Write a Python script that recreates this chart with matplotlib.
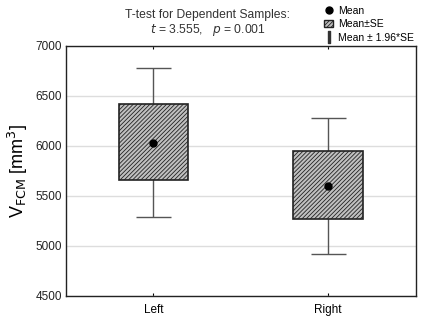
import numpy as np
import matplotlib.pyplot as plt
from matplotlib.patches import Patch
from matplotlib.lines import Line2D

plt.rcParams['font.family'] = ['Liberation Sans', 'DejaVu Sans']

groups = ['Left', 'Right']
means = [6030, 5600]
se_low = [5657, 5264]
se_high = [6417, 5947]
ci_low = [5284, 4917]
ci_high = [6774, 6280]

fig = plt.figure(figsize=(4.21, 3.18), dpi=100)
ax = fig.add_axes([0.157, 0.070, 0.830, 0.786])

pos = np.arange(1, len(groups) + 1)

# whiskers (mean +- 1.96*SE)
ax.vlines(pos, ci_low, ci_high, color='#555555', lw=1.0, zorder=2)
ax.hlines(ci_low, pos - 0.1, pos + 0.1, color='#555555', lw=1.0, zorder=2)
ax.hlines(ci_high, pos - 0.1, pos + 0.1, color='#555555', lw=1.0, zorder=2)

# boxes (mean +- SE)
plt.rcParams['hatch.color'] = '#505050'
plt.rcParams['hatch.linewidth'] = 0.6
heights = np.array(se_high) - np.array(se_low)
ax.bar(pos, heights, bottom=se_low, width=0.4, color='#c0c0c0',
       edgecolor='#222222', linewidth=1.2, hatch='////////', zorder=3)

# means
ax.plot(pos, means, 'o', color='black', ms=5, zorder=4)

ax.set_xlim(0.5, 2.5)
ax.set_ylim(4500, 7000)
ax.set_yticks(np.arange(4500, 7001, 500))
ax.set_xticks(pos)
ax.set_xticklabels(groups)
ax.yaxis.grid(True, color='#dddddd', lw=1.0)
ax.set_axisbelow(True)
ax.tick_params(axis='x', direction='in', length=2, top=True, labelsize=8.5, pad=6)
ax.tick_params(axis='y', length=0, labelsize=8.5, pad=3, labelcolor='#222222')
for s in ax.spines.values():
    s.set_linewidth(1.0)
    s.set_color('#222222')

ax.set_ylabel(r'V$_{\mathrm{FCM}}$ [mm$^3$]', fontsize=13, labelpad=4)

fig.text(0.494, 0.952, 'T-test for Dependent Samples:', ha='center', va='center',
         fontsize=8.7, color='#333333')
fig.text(0.494, 0.905, r'$t$ = 3.555,   $p$ = 0.001', ha='center', va='center',
         fontsize=8.7, color='#333333')

handles = [
    Line2D([], [], marker='o', color='black', ls='none', ms=5),
    Patch(facecolor='#c0c0c0', edgecolor='#222222', hatch='////////'),
    Line2D([], [], marker='$\\mathrm{I}$', color='#333333', ls='none', ms=8),
]
labels = ['Mean', 'Mean\u00b1SE', 'Mean \u00b1 1.96*SE']
fig.legend(handles, labels, loc='upper left', bbox_to_anchor=(0.752, 1.005),
           frameon=False, fontsize=7.5, handlelength=0.9, handletextpad=0.5,
           labelspacing=0.35, borderpad=0.2)

fig.savefig('out.png', dpi=100)
